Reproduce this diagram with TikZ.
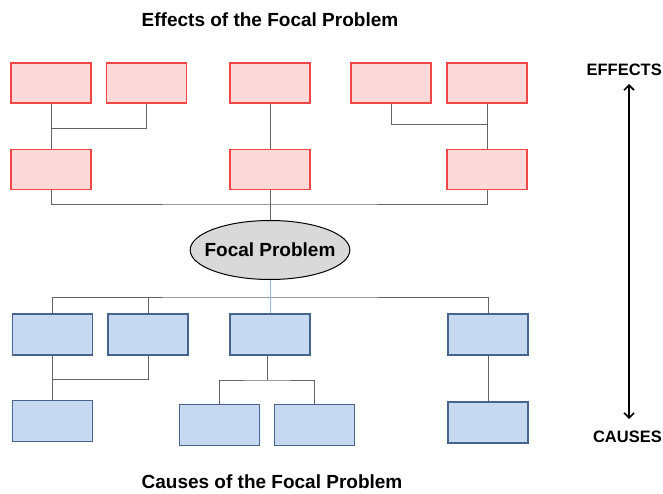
\documentclass[tikz,border=0pt]{standalone}
\usepackage{fontspec}
\setmainfont{Liberation Sans}
\usepackage{tikz}
\usetikzlibrary{arrows,arrows.meta,shapes,positioning}
\usepackage{xcolor}
\definecolor{efred}{RGB}{240,70,70}
\definecolor{eflightred}{RGB}{253,218,218}
\definecolor{cablue}{RGB}{70,100,140}
\definecolor{calightblue}{RGB}{198,217,240}
\definecolor{focalgray}{RGB}{217,217,217}
\definecolor{linkgray}{RGB}{100,100,100}
\definecolor{linkblue}{RGB}{150,180,225}
\tikzstyle{effect} = [rectangle, minimum width=80pt, minimum height=40pt, inner sep=0pt, draw=efred, fill=eflightred, line width=1.7pt]
\tikzstyle{cause} = [rectangle, minimum width=80pt, minimum height=41pt, inner sep=0pt, draw=cablue, fill=calightblue, line width=1.7pt]
\tikzstyle{link} = [line width=0.9pt, color=linkgray]
\tikzstyle{headline} = [font=\fontsize{19}{21}\selectfont\bfseries, anchor=base]
\tikzstyle{sidelabel} = [font=\fontsize{16.5}{18}\selectfont\bfseries, anchor=base east, inner sep=0pt]
\tikzstyle{bigarrow} = [line width=1.6pt, {Straight Barb[length=5pt,width=10pt]}-{Straight Barb[length=5pt,width=10pt]}]

\begin{document}
\begin{tikzpicture}[x=1pt, y=-1pt]
    \useasboundingbox (0,0) rectangle (663,493);

    % Titles
    \node[headline] (efftitle) at (270,26) {Effects of the Focal Problem};
    \node[headline] (cautitle) at (272,488) {Causes of the Focal Problem};

    % Effects, top row
    \node[effect] (efA) at (51,83) {};
    \node[effect] (efB) at (146.5,83) {};
    \node[effect] (efC) at (270,83) {};
    \node[effect] (efD) at (391,83) {};
    \node[effect] (efE) at (487,83) {};

    % Effects, second row
    \node[effect] (efL) at (51,169.5) {};
    \node[effect] (efM) at (270,169.5) {};
    \node[effect] (efR) at (487,169.5) {};

    % Focal problem
    \node[ellipse, draw=black, line width=1pt, fill=focalgray, minimum height=59pt, inner xsep=-9pt, inner ysep=0pt,
          font=\fontsize{19}{21}\selectfont\bfseries] (focal) at (270,250) {Focal Problem};

    % Causes, first row
    \node[cause] (caA) at (52.5,334.5) {};
    \node[cause] (caB) at (148,334.5) {};
    \node[cause] (caC) at (270,334.5) {};
    \node[cause] (caD) at (488,334.5) {};

    % Causes, second row
    \node[cause] (caL) at (52.5,421) {};
    \node[cause] (caM1) at (219.5,425) {};
    \node[cause] (caM2) at (314.5,425) {};
    \node[cause] (caR) at (488,422.5) {};

    % Junctions
    \coordinate (jEffL) at (51,128);
    \coordinate (jEffR) at (487,124);
    \coordinate (busE) at (270,204);
    \coordinate (busC) at (270,297);
    \coordinate (jCauL) at (52.5,379);
    \coordinate (jCauM) at (267,380);

    % Effect links
    \draw[link] (efA) -- (efL);
    \draw[link] (efB.south) |- (jEffL);
    \draw[link] (efC) -- (efM);
    \draw[link] (efD.south) |- (jEffR);
    \draw[link] (efE) -- (efR);
    \draw[link] (efL.south) |- (busE) -| (efR.south);
    \draw[link] (efM) -- (focal);

    % Cause links
    \draw[link] (caA.north) |- (busC) -| (caD.north);
    \draw[link] (caB.north) -- (caB.north |- busC);
    \draw[line width=0.9pt, color=linkblue] (focal) -- (caC);
    \draw[link] (caA) -- (caL);
    \draw[link] (caB.south) |- (jCauL);
    \draw[link] (caC.south -| jCauM) -- (jCauM);
    \draw[link] (caM1.north) |- (jCauM) -| (caM2.north);
    \draw[link] (caD) -- (caR);

    % Side arrow
    \node[sidelabel] (effects) at (662,75) {EFFECTS};
    \node[sidelabel] (causes) at (662,442) {CAUSES};
    \coordinate (arrTop) at (629,84);
    \coordinate (arrBot) at (629,419);
    \draw[bigarrow] (arrTop) -- (arrBot);
\end{tikzpicture}
\end{document}
